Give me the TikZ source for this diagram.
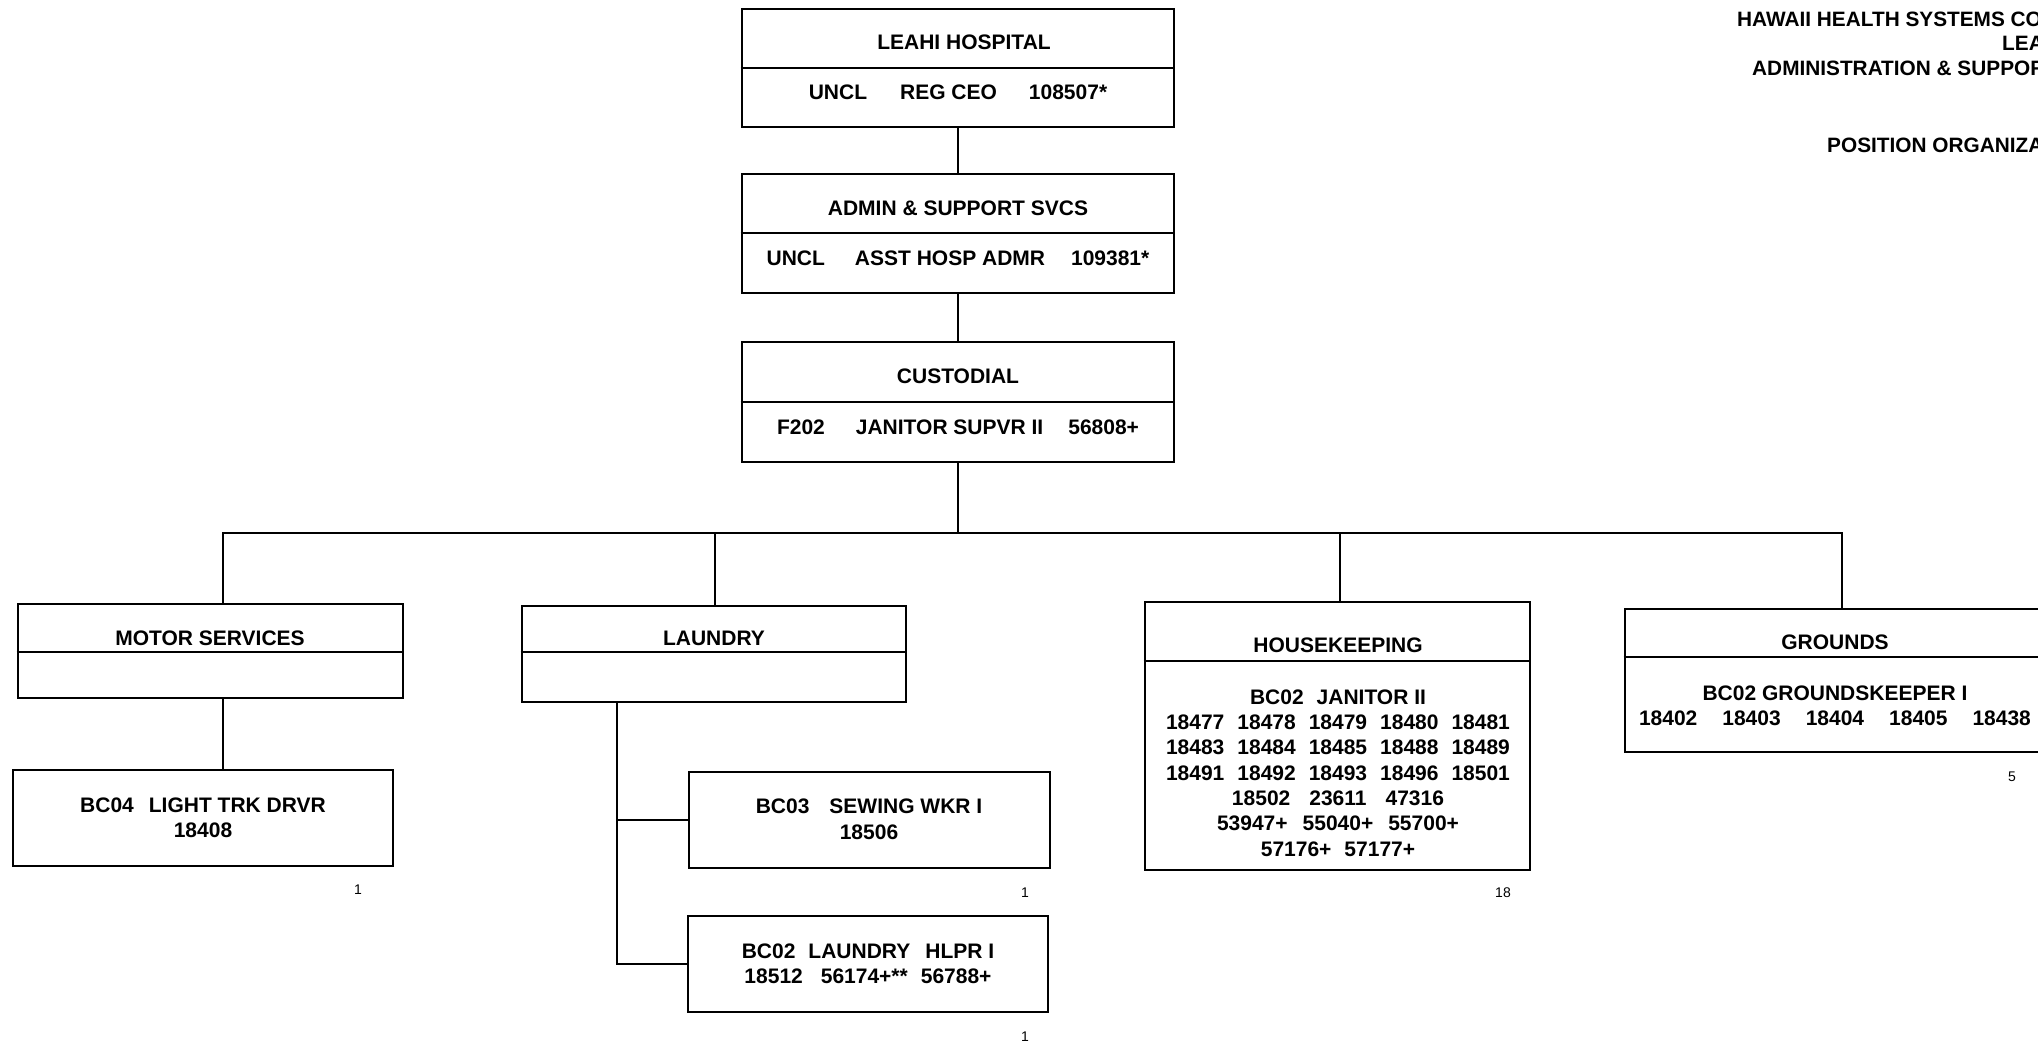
\documentclass[tikz,border=0pt]{standalone}
\usepackage{fontspec}
\setmainfont{Liberation Sans}
\newcommand{\gp}[1]{\hspace{#1pt}}
\newcommand{\obox}[5]{\node[box, minimum width={(#4-#2)*1pt}, minimum height={(#5-#3)*1pt}] (#1) at ({(#2+#4)/2},{(#3+#5)/2}) {};}
\newcommand{\divline}[2]{\draw[divl] (#1.west |- 0,#2) -- (#1.east |- 0,#2);}
\begin{document}
\begin{tikzpicture}[x=1pt,y=-1pt,
  box/.style={draw, line width=2.6pt, rectangle, inner sep=0pt},
  divl/.style={line width=1.5pt},
  conn/.style={line width=1.5pt},
  ttl/.style={font=\fontsize{21}{25.3}\selectfont\bfseries, inner sep=0pt, align=center},
  cnt/.style={font=\fontsize{14}{16}\selectfont, inner sep=0pt},
  hdr/.style={font=\fontsize{20.8}{24}\selectfont\bfseries, inner sep=0pt, anchor=west}]
\useasboundingbox (0,0) rectangle (2038,1044);
\clip (0,0) rectangle (2038,1044);

% header (cut off at right edge)
\node[hdr] (h1) at (1737,19) {HAWAII HEALTH SYSTEMS CO};
\node[hdr] (h2) at (2002,43) {LEA};
\node[hdr] (h3) at (1752,68) {ADMINISTRATION \& SUPPOR};
\node[hdr] (h4) at (1827,145) {POSITION ORGANIZA};

% top chain
\obox{leahi}{742}{9}{1174}{127}
\divline{leahi}{68}
\node[ttl] (leahiT) at (964,42) {LEAHI HOSPITAL};
\node[ttl] (leahiB) at (958,92) {UNCL\gp{33}REG CEO\gp{32}108507*};

\obox{admin}{742}{174}{1174}{293}
\divline{admin}{233}
\node[ttl] (adminT) at (958,208) {ADMIN \& SUPPORT SVCS};
\node[ttl] (adminB) at (958,258) {UNCL\gp{30}ASST HOSP ADMR\gp{26}109381*};

\obox{cust}{742}{342}{1174}{462}
\divline{cust}{402}
\node[ttl] (custT) at (958,376) {CUSTODIAL};
\node[ttl] (custB) at (958,427) {F202\gp{31}JANITOR SUPVR II\gp{25}56808+};

% second level
\obox{motor}{18}{604}{403}{698}
\divline{motor}{652}
\node[ttl] (motorT) at (210,638) {MOTOR SERVICES};

\obox{laundry}{522}{606}{906}{702}
\divline{laundry}{652}
\node[ttl] (laundryT) at (714,638) {LAUNDRY};

\obox{house}{1145}{602}{1530}{870}
\divline{house}{661}
\node[ttl] (houseT) at (1338,645) {HOUSEKEEPING};
\node[ttl] (houseB) at (1338,773) {BC02\gp{13}JANITOR II\\
18477\gp{13}18478\gp{13}18479\gp{13}18480\gp{13}18481\\
18483\gp{13}18484\gp{13}18485\gp{13}18488\gp{13}18489\\
18491\gp{13}18492\gp{13}18493\gp{13}18496\gp{13}18501\\
18502\gp{19}23611\gp{19}47316\\
53947+\gp{15}55040+\gp{15}55700+\\
57176+\gp{13}57177+};

\obox{grounds}{1625}{609}{2050}{752}
\divline{grounds}{657}
\node[ttl] (groundsT) at (1835,642) {GROUNDS};
\node[ttl, font=\fontsize{21}{25}\selectfont\bfseries] (groundsB) at (1835,705.5) {BC02 GROUNDSKEEPER I\\
18402\gp{25}18403\gp{25}18404\gp{25}18405\gp{25}18438};

% third level
\obox{truck}{13}{770}{393}{866}
\node[ttl, font=\fontsize{21}{25}\selectfont\bfseries] (truckB) at (203,817.5) {BC04\gp{15}LIGHT TRK DRVR\\18408};

\obox{sewing}{689}{772}{1050}{868}
\node[ttl, font=\fontsize{21}{26}\selectfont\bfseries] (sewingB) at (869,819) {BC03\gp{20}SEWING WKR I\\18506};

\obox{hlpr}{688}{916}{1048}{1012}
\node[ttl, font=\fontsize{21}{25}\selectfont\bfseries] (hlprB) at (868,963.5) {BC02\gp{13}LAUNDRY\gp{15}HLPR I\\18512\gp{18}56174+**\gp{13}56788+};

% counts
\node[cnt] (c1) at (358,890) {1};
\node[cnt] (c2) at (1025,893) {1};
\node[cnt] (c3) at (1025,1037) {1};
\node[cnt] (c4) at (1503,893) {18};
\node[cnt] (c5) at (2012,777) {5};

% connectors
\draw[conn] (leahi.south) -- (admin.north);
\draw[conn] (admin.south) -- (cust.north);
\coordinate (bus) at (0,533);
\coordinate (dm) at (223,0);
\coordinate (dl) at (715,0);
\coordinate (dh) at (1340,0);
\coordinate (dg) at (1842,0);
\draw[conn] (cust.south) -- (cust.south |- bus);
\draw[conn] (dm |- motor.north) -- (dm |- bus) -- (dg |- bus) -- (dg |- grounds.north);
\draw[conn] (dl |- bus) -- (dl |- laundry.north);
\draw[conn] (dh |- bus) -- (dh |- house.north);
\draw[conn] (dm |- motor.south) -- (dm |- truck.north);
\coordinate (lv) at (617,0);
\draw[conn] (lv |- laundry.south) |- (hlpr.west);
\draw[conn] (lv |- sewing.west) -- (sewing.west);
\end{tikzpicture}
\end{document}
